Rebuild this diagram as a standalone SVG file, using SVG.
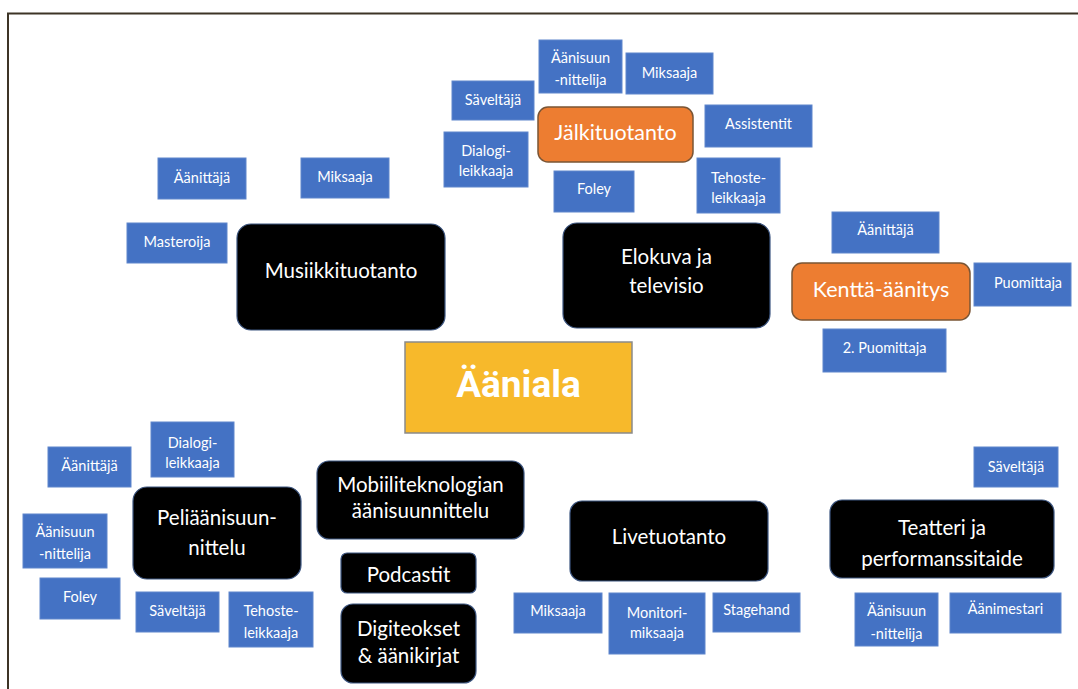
<svg xmlns="http://www.w3.org/2000/svg" width="1078" height="689" viewBox="0 0 1078 689">
<style>
.b{fill:#4472c4;stroke:#5f86cc;stroke-width:1}
.k{fill:#000;stroke:#3d5680;stroke-width:1.2}
.o{fill:#ed7d31;stroke:#7a5535;stroke-width:1.5}
.tb{font-family:Lato,"Open Sans",sans-serif;font-size:14.5px;fill:#fff;text-anchor:middle;dominant-baseline:central}
.tk{font-family:Lato,"Open Sans",sans-serif;font-size:20.5px;fill:#fff;text-anchor:middle;dominant-baseline:central}
.to{font-family:Lato,"Open Sans",sans-serif;font-size:21.5px;fill:#fff;text-anchor:middle;dominant-baseline:central}
</style>
<rect x="0" y="0" width="1078" height="689" fill="#fff"/>
<rect x="8" y="13.5" width="1100" height="700" fill="none" stroke="#3d3426" stroke-width="2"/>
<g id="connectors"/>
<!-- top cluster -->
<g id="jalki-aanisuun"><rect class="b" x="539" y="40" width="83" height="53"/><text class="tb" x="580.5" y="57">Äänisuun</text><text class="tb" x="580.5" y="79">-nittelija</text></g>
<g id="jalki-miksaaja"><rect class="b" x="626" y="53" width="87" height="41"/><text class="tb" x="669.5" y="72">Miksaaja</text></g>
<g id="jalki-saveltaja"><rect class="b" x="452" y="81" width="82" height="39"/><text class="tb" x="493" y="99">Säveltäjä</text></g>
<g id="jalkituotanto"><rect class="o" x="538" y="107" width="155" height="55" rx="10"/><text class="to" x="615.5" y="132">Jälkituotanto</text></g>
<g id="jalki-assistentit"><rect class="b" x="705" y="105" width="107" height="42"/><text class="tb" x="758.5" y="123">Assistentit</text></g>
<g id="jalki-dialogi"><rect class="b" x="444" y="132" width="84" height="55"/><text class="tb" x="486" y="150">Dialogi-</text><text class="tb" x="486" y="170">leikkaaja</text></g>
<g id="jalki-foley"><rect class="b" x="554" y="171" width="80" height="41"/><text class="tb" x="594" y="188">Foley</text></g>
<g id="jalki-tehoste"><rect class="b" x="697" y="158" width="83" height="55"/><text class="tb" x="738.5" y="177">Tehoste-</text><text class="tb" x="738.5" y="197">leikkaaja</text></g>
<!-- music -->
<g id="mus-aanittaja"><rect class="b" x="158" y="158" width="88" height="41"/><text class="tb" x="202" y="177">Äänittäjä</text></g>
<g id="mus-miksaaja"><rect class="b" x="301" y="158" width="88" height="40"/><text class="tb" x="345" y="176">Miksaaja</text></g>
<g id="mus-masteroija"><rect class="b" x="127" y="223" width="100" height="40"/><text class="tb" x="177" y="241">Masteroija</text></g>
<g id="musiikkituotanto"><rect class="k" x="237" y="224" width="208" height="106" rx="14"/><text class="tk" x="341" y="270">Musiikkituotanto</text></g>
<g id="elokuva"><rect class="k" x="563" y="223" width="207" height="105" rx="14"/><text class="tk" x="666.5" y="256">Elokuva ja</text><text class="tk" x="666.5" y="285">televisio</text></g>
<!-- kentta -->
<g id="kentta-aanittaja"><rect class="b" x="832" y="212" width="107" height="41"/><text class="tb" x="885.5" y="229">Äänittäjä</text></g>
<g id="kentta"><rect class="o" x="792" y="263" width="178" height="57" rx="10"/><text class="to" x="881" y="289">Kenttä-äänitys</text></g>
<g id="kentta-puomittaja"><rect class="b" x="974" y="263" width="97" height="43"/><text class="tb" x="1028" y="282">Puomittaja</text></g>
<g id="kentta-puomittaja2"><rect class="b" x="823" y="329" width="123" height="43"/><text class="tb" x="884.5" y="347">2. Puomittaja</text></g>
<!-- center -->
<g id="aaniala"><rect x="405" y="342" width="227" height="91" fill="#f7b92b" stroke="#8a8a8a" stroke-width="1.5"/><text x="518.5" y="384" font-family="Roboto,'Liberation Sans',sans-serif" font-weight="bold" font-size="37" fill="#fff" text-anchor="middle" dominant-baseline="central">Ääniala</text></g>
<!-- peli -->
<g id="peli-dialogi"><rect class="b" x="151" y="422" width="83" height="55"/><text class="tb" x="192.5" y="442">Dialogi-</text><text class="tb" x="192.5" y="462">leikkaaja</text></g>
<g id="peli-aanittaja"><rect class="b" x="48" y="447" width="83" height="40"/><text class="tb" x="89.5" y="465">Äänittäjä</text></g>
<g id="peli"><rect class="k" x="133" y="487" width="168" height="92" rx="14"/><text class="tk" x="217" y="517">Peliäänisuun-</text><text class="tk" x="217" y="547">nittelu</text></g>
<g id="peli-aanisuun"><rect class="b" x="23" y="514" width="84" height="54"/><text class="tb" x="65" y="531">Äänisuun</text><text class="tb" x="65" y="553">-nittelija</text></g>
<g id="peli-foley"><rect class="b" x="40" y="578" width="80" height="41"/><text class="tb" x="80" y="596">Foley</text></g>
<g id="peli-saveltaja"><rect class="b" x="136" y="592" width="83" height="40"/><text class="tb" x="177.5" y="610">Säveltäjä</text></g>
<g id="peli-tehoste"><rect class="b" x="229" y="592" width="84" height="55"/><text class="tb" x="271" y="610">Tehoste-</text><text class="tb" x="271" y="632">leikkaaja</text></g>
<!-- middle bottom -->
<g id="mobiili"><rect class="k" x="317" y="461" width="207" height="78" rx="12"/><text class="tk" x="420.5" y="484">Mobiiliteknologian</text><text class="tk" x="420.5" y="510">äänisuunnittelu</text></g>
<g id="podcastit"><rect class="k" x="341" y="553" width="135" height="40" rx="6"/><text class="tk" x="408.5" y="574">Podcastit</text></g>
<g id="digiteokset"><rect class="k" x="341" y="604" width="135" height="79" rx="12"/><text class="tk" x="408.5" y="628">Digiteokset</text><text class="tk" x="408.5" y="655">&amp; äänikirjat</text></g>
<g id="livetuotanto"><rect class="k" x="570" y="501" width="198" height="80" rx="12"/><text class="tk" x="669" y="536">Livetuotanto</text></g>
<g id="live-miksaaja"><rect class="b" x="514" y="593" width="88" height="40"/><text class="tb" x="558" y="610">Miksaaja</text></g>
<g id="live-monitori"><rect class="b" x="609" y="593" width="96" height="61"/><text class="tb" x="657" y="612">Monitori-</text><text class="tb" x="657" y="632">miksaaja</text></g>
<g id="live-stagehand"><rect class="b" x="713" y="593" width="87" height="39"/><text class="tb" x="756.5" y="609">Stagehand</text></g>
<!-- teatteri -->
<g id="teat-saveltaja"><rect class="b" x="974" y="447" width="84" height="40"/><text class="tb" x="1016" y="466">Säveltäjä</text></g>
<g id="teatteri"><rect class="k" x="830" y="500" width="224" height="78" rx="12"/><text class="tk" x="942" y="527">Teatteri ja</text><text class="tk" x="942" y="558">performanssitaide</text></g>
<g id="teat-aanisuun"><rect class="b" x="855" y="593" width="83" height="53"/><text class="tb" x="896.5" y="610">Äänisuun</text><text class="tb" x="896.5" y="633">-nittelija</text></g>
<g id="teat-aanimestari"><rect class="b" x="950" y="593" width="111" height="40"/><text class="tb" x="1005.5" y="608">Äänimestari</text></g>
</svg>
